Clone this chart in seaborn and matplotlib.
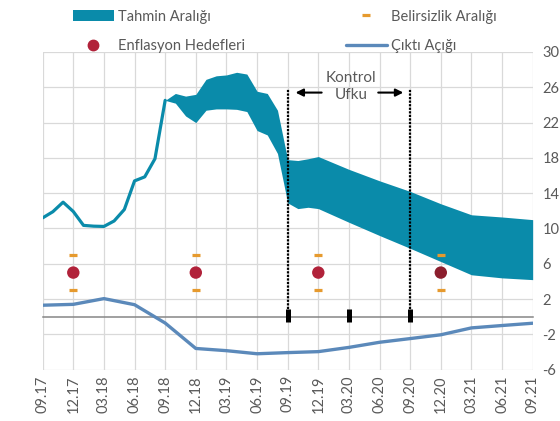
import matplotlib
matplotlib.use("Agg")
import matplotlib.pyplot as plt
import seaborn as sns
from matplotlib.patches import Patch
from matplotlib.lines import Line2D

# ---------- Data (month index: 0 = 09.17, 48 = 09.21) ----------
quarter_labels = ["09.17", "12.17", "03.18", "06.18", "09.18", "12.18", "03.19", "06.19",
                  "09.19", "12.19", "03.20", "06.20", "09.20", "12.20", "03.21", "06.21", "09.21"]
quarter_months = list(range(0, 49, 3))

cpi_months = list(range(0, 13))
cpi = [11.20, 11.90, 12.98, 11.92, 10.35, 10.26, 10.23, 10.85, 12.15, 15.39, 15.85, 17.90, 24.52]

band_months = [12, 13, 14, 15, 16, 17, 18, 19, 20, 21, 22, 23, 24, 25, 26, 27,
               30, 33, 36, 39, 42, 45, 48]
band_upper = [24.52, 25.3, 25.0, 25.2, 26.9, 27.3, 27.4, 27.7, 27.5, 25.55, 25.3, 23.4,
              17.8, 17.7, 17.9, 18.15, 16.7, 15.4, 14.2, 12.8, 11.55, 11.3, 11.0]
band_lower = [24.52, 24.2, 22.75, 22.0, 23.4, 23.55, 23.55, 23.5, 23.25, 21.1, 20.6, 18.5,
              12.9, 12.25, 12.4, 12.25, 10.7, 9.2, 7.75, 6.25, 4.75, 4.4, 4.2]

target_months = [3, 15, 27, 39]
targets = [5, 5, 5, 5]
uncertainty = 2

output_gap = [1.3, 1.4, 2.05, 1.36, -0.72, -3.6, -3.85, -4.2, -4.07, -3.96, -3.48,
              -2.9, -2.48, -2.05, -1.27, -1.0, -0.74]

horizon_start, horizon_end = 24, 36
horizon_marks = [24, 30, 36]

# ---------- Style ----------
teal = "#0A8BAA"
orange = "#E69A2E"
red = "#B1223A"
dark_red = "#8B1E2D"
blue = "#5B89BA"
grey_text = "#595959"

sns.set_style("white")
plt.rcParams["font.family"] = ["Lato", "DejaVu Sans"]
plt.rcParams["axes.unicode_minus"] = False

fig = plt.figure(figsize=(5.6, 4.21), dpi=100)
ax = fig.add_axes([0.0762, 0.122, 0.875, 0.7545])

# band + lines
ax.fill_between(band_months, band_lower, band_upper, color=teal, lw=0, zorder=2)
sns.lineplot(x=cpi_months, y=cpi, ax=ax, color=teal, lw=2.3, zorder=3)
sns.lineplot(x=quarter_months, y=output_gap, ax=ax, color=blue, lw=2.4, zorder=3)

# targets and uncertainty
ax.plot(target_months, [t + uncertainty for t in targets], ls="none", marker="_",
        ms=5.5, mew=2.3, color=orange, zorder=4)
ax.plot(target_months, [t - uncertainty for t in targets], ls="none", marker="_",
        ms=5.5, mew=2.3, color=orange, zorder=4)
sns.scatterplot(x=target_months, y=targets, ax=ax, hue=target_months,
                palette=[red, red, red, dark_red], s=80, edgecolor="none",
                legend=False, zorder=5)

# control horizon
for m in [horizon_start, horizon_end]:
    ax.vlines(m, 0.9, 25.8, color="black", lw=1.6, linestyles=(0, (1, 0.6)), zorder=6)
ax.vlines(horizon_marks, -0.6, 0.9, color="black", lw=3.6, zorder=7)
ax.annotate("", xy=(24.5, 25.4), xytext=(27.6, 25.4),
            arrowprops=dict(arrowstyle="-|>", color="black", lw=1.5, mutation_scale=11))
ax.annotate("", xy=(35.6, 25.4), xytext=(32.6, 25.4),
            arrowprops=dict(arrowstyle="-|>", color="black", lw=1.5, mutation_scale=11))
ax.text(30.2, 26.1, "Kontrol\nUfku", ha="center", va="center", fontsize=11,
        color=grey_text, linespacing=1.3)

# axes
ax.set_xlim(0, 48)
ax.set_ylim(-6, 30)
ax.set_xticks(quarter_months)
ax.set_yticks(range(-6, 31, 4))
ax.yaxis.tick_right()
ax.grid(True, color="#D9D9D9", lw=0.9)
ax.set_axisbelow(True)
for s in ["top", "left", "right"]:
    ax.spines[s].set_visible(False)
ax.spines["bottom"].set_position(("data", 0))
ax.spines["bottom"].set_color("#868686")
ax.spines["bottom"].set_linewidth(1.1)
ax.tick_params(axis="x", direction="out", length=4, width=1, color="#868686",
               labelbottom=False)
ax.tick_params(axis="y", length=0, pad=7, labelcolor=grey_text, labelsize=10.5)
ax.set_xlabel("")
ax.set_ylabel("")

sec = ax.secondary_xaxis("bottom")
sec.set_xticks(quarter_months, labels=quarter_labels, rotation=90)
sec.tick_params(length=0, pad=4, labelcolor=grey_text, labelsize=10.5)
sec.spines["bottom"].set_visible(False)

# legend
handles = [
    Patch(facecolor=teal, edgecolor="none"),
    Line2D([], [], ls="none", marker="o", ms=7.5, color=red),
    Line2D([], [], ls="none", marker="_", ms=5.5, mew=2.3, color=orange),
    Line2D([], [], color=blue, lw=2.4),
]
labels = ["Tahmin Aralığı", "Enflasyon Hedefleri", "Belirsizlik Aralığı", "Çıktı Açığı"]
fig.legend(handles, labels, ncol=2, loc="upper left", bbox_to_anchor=(0.130, 0.977),
           frameon=False, fontsize=10.5, handlelength=2.8, handleheight=0.8,
           handletextpad=0.3, columnspacing=6.9, labelspacing=1.05, borderpad=0,
           borderaxespad=0, labelcolor=grey_text)

fig.savefig("out.png", dpi=100)
